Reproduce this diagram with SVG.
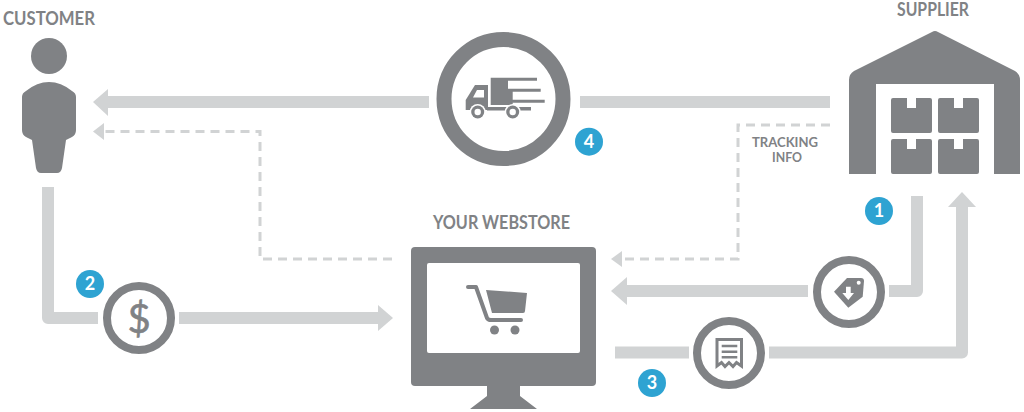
<svg xmlns="http://www.w3.org/2000/svg" width="1024" height="412" viewBox="0 0 1024 412">
<style>
.d{fill:#808285}
.w{fill:#fff}
.l{fill:#d1d3d4}
.ln{fill:none;stroke:#d1d3d4;stroke-width:12;stroke-linejoin:round}
.ds{fill:none;stroke:#d1d3d4;stroke-width:3;stroke-dasharray:9 6}
.ring{fill:#fff;stroke:#808285}
.t{font-family:Lato,"Liberation Sans",sans-serif;font-weight:700;fill:#808285}
.b{fill:#2ea3d2}
.n{font-family:Lato,"Liberation Sans",sans-serif;font-weight:700;font-size:18px;fill:#fff;text-anchor:middle}
</style>
<rect width="1024" height="412" fill="#fff"/>
<g id="connectors">
<path class="ln" d="M429 102H105"/>
<path class="l" d="M93 102L108 89V116Z"/>
<path class="ln" d="M580 102H830"/>
<path class="ds" d="M392 259H260V131.500H103"/>
<path class="l" d="M93 131.500L104 123V140Z"/>
<path class="ds" d="M830 125H738V259H622"/>
<path class="l" d="M611 259L622 251V267Z"/>
<path class="ln" d="M48 187V318H98"/>
<path class="ln" d="M179 318H380"/>
<path class="l" d="M393 318L378 305V331Z"/>
<path class="ln" d="M889 291H917V196"/>
<path class="ln" d="M808 291H625"/>
<path class="l" d="M611 291L627 277V305Z"/>
<path class="ln" d="M615 352.500H689"/>
<path class="ln" d="M769 352.500H962V205"/>
<path class="l" d="M962 192L976 207H948Z"/>
</g>
<g id="customer">
<text class="t" x="3" y="25" font-size="18" textLength="92" lengthAdjust="spacingAndGlyphs">CUSTOMER</text>
<circle class="d" cx="49" cy="56" r="18"/>
<path class="d" d="M22 97Q22 93 26 91Q37 82 49 82Q61 82 72 91Q76 93 76 97V130Q76 135 72 137L66 140L62 168Q61 173 57 173H41Q37 173 36 168L32 140L26 137Q22 135 22 130Z"/>
</g>
<g id="truck">
<circle class="ring" cx="503.500" cy="99" r="59.500" stroke-width="15"/>
<path class="d" d="M490.700 77.700H537V80.700H508V88.700H540.700V91.700H512.700V99.700H544.700V102.700H512.700V105H490.700Z"/>
<path class="d" d="M488 85H475L465.700 100V110H488Z"/>
<rect class="d" x="487" y="107" width="20" height="3.500"/>
<rect class="d" x="517" y="107" width="14" height="3.500"/>
<path class="w" d="M477 90H484V97.500H473Z"/>
<circle class="w" cx="477.700" cy="112" r="8"/><circle class="d" cx="477.700" cy="112" r="6.500"/><circle class="w" cx="477.700" cy="112" r="3.200"/>
<circle class="w" cx="512.700" cy="112" r="8"/><circle class="d" cx="512.700" cy="112" r="6.500"/><circle class="w" cx="512.700" cy="112" r="3.200"/>
</g>
<g id="badge4"><circle class="b" cx="589" cy="141.700" r="14"/><text class="n" x="589" y="148">4</text></g>
<g id="supplier">
<text class="t" x="897" y="16" font-size="18" textLength="72" lengthAdjust="spacingAndGlyphs">SUPPLIER</text>
<path class="d" d="M849 80Q849 74 854 71L932 32Q935 30 938 32L1015 71Q1020 74 1020 80V174H994V84H876V174H849Z"/>
<path class="d" d="M891 100a2 2 0 0 1 2-2H907V108H916V98H930a2 2 0 0 1 2 2V131a2 2 0 0 1-2 2H893a2 2 0 0 1-2-2Z"/>
<path class="d" d="M938 100a2 2 0 0 1 2-2H954V108H963V98H977a2 2 0 0 1 2 2V131a2 2 0 0 1-2 2H940a2 2 0 0 1-2-2Z"/>
<path class="d" d="M891 141a2 2 0 0 1 2-2H907V149H916V139H930a2 2 0 0 1 2 2V172a2 2 0 0 1-2 2H893a2 2 0 0 1-2-2Z"/>
<path class="d" d="M938 141a2 2 0 0 1 2-2H954V149H963V139H977a2 2 0 0 1 2 2V172a2 2 0 0 1-2 2H940a2 2 0 0 1-2-2Z"/>
</g>
<g id="tracking-info">
<text class="t" x="752" y="147" font-size="14" textLength="66" lengthAdjust="spacingAndGlyphs">TRACKING</text>
<text class="t" x="772" y="162" font-size="14" textLength="30" lengthAdjust="spacingAndGlyphs">INFO</text>
</g>
<g id="badge1"><circle class="b" cx="879" cy="211" r="14"/><text class="n" x="879" y="217.300">1</text></g>
<g id="webstore">
<text class="t" x="433" y="229" font-size="18" textLength="137" lengthAdjust="spacingAndGlyphs">YOUR WEBSTORE</text>
<rect class="d" x="411" y="247" width="185" height="139" rx="4"/>
<rect class="w" x="427" y="263" width="153" height="90" rx="2"/>
<path class="d" d="M487 386H520V396L537 409H470L487 396Z"/>
<path class="d" d="M486 290L527 293L525 311Q525 313 523 313H492Z"/>
<path fill="none" stroke="#808285" stroke-width="4" stroke-linecap="round" stroke-linejoin="round" d="M468 287H476L487 318Q488 320 491 320H521"/>
<circle class="d" cx="494.500" cy="330" r="4.500"/>
<circle class="d" cx="515" cy="330" r="4.500"/>
</g>
<g id="dollar">
<circle class="ring" cx="139" cy="318" r="32" stroke-width="8"/>
<text x="139" y="332.500" font-family="Lato,'Liberation Sans',sans-serif" font-size="40" fill="#808285" stroke="#808285" stroke-width="0.600" text-anchor="middle">$</text>
</g>
<g id="badge2"><circle class="b" cx="90" cy="284" r="14"/><text class="n" x="90" y="290.300">2</text></g>
<g id="tag">
<circle class="ring" cx="849" cy="292" r="32" stroke-width="8"/>
<path class="d" d="M834 291.700L847 278L861 278Q864 278 864 281L862.700 296.700L848.300 307.700Z"/>
<circle class="w" cx="858.700" cy="282.700" r="2"/>
<path class="w" d="M846 286.700H850.700V293H854L848.300 300L842.300 293H846Z"/>
</g>
<g id="receipt">
<circle class="ring" cx="729" cy="353" r="32" stroke-width="8"/>
<path fill="none" stroke="#808285" stroke-width="3" d="M717 339.500H741.500V366L736.500 362.500L733 366.500L729 362.500L725 366.500L721.500 362.500L717 366Z"/>
<path fill="none" stroke="#808285" stroke-width="2.500" d="M721.700 346H737.300M721.700 351.700H737.300M721.700 357.300H737.300"/>
</g>
<g id="badge3"><circle class="b" cx="652" cy="383" r="14"/><text class="n" x="652" y="389.300">3</text></g>
</svg>
